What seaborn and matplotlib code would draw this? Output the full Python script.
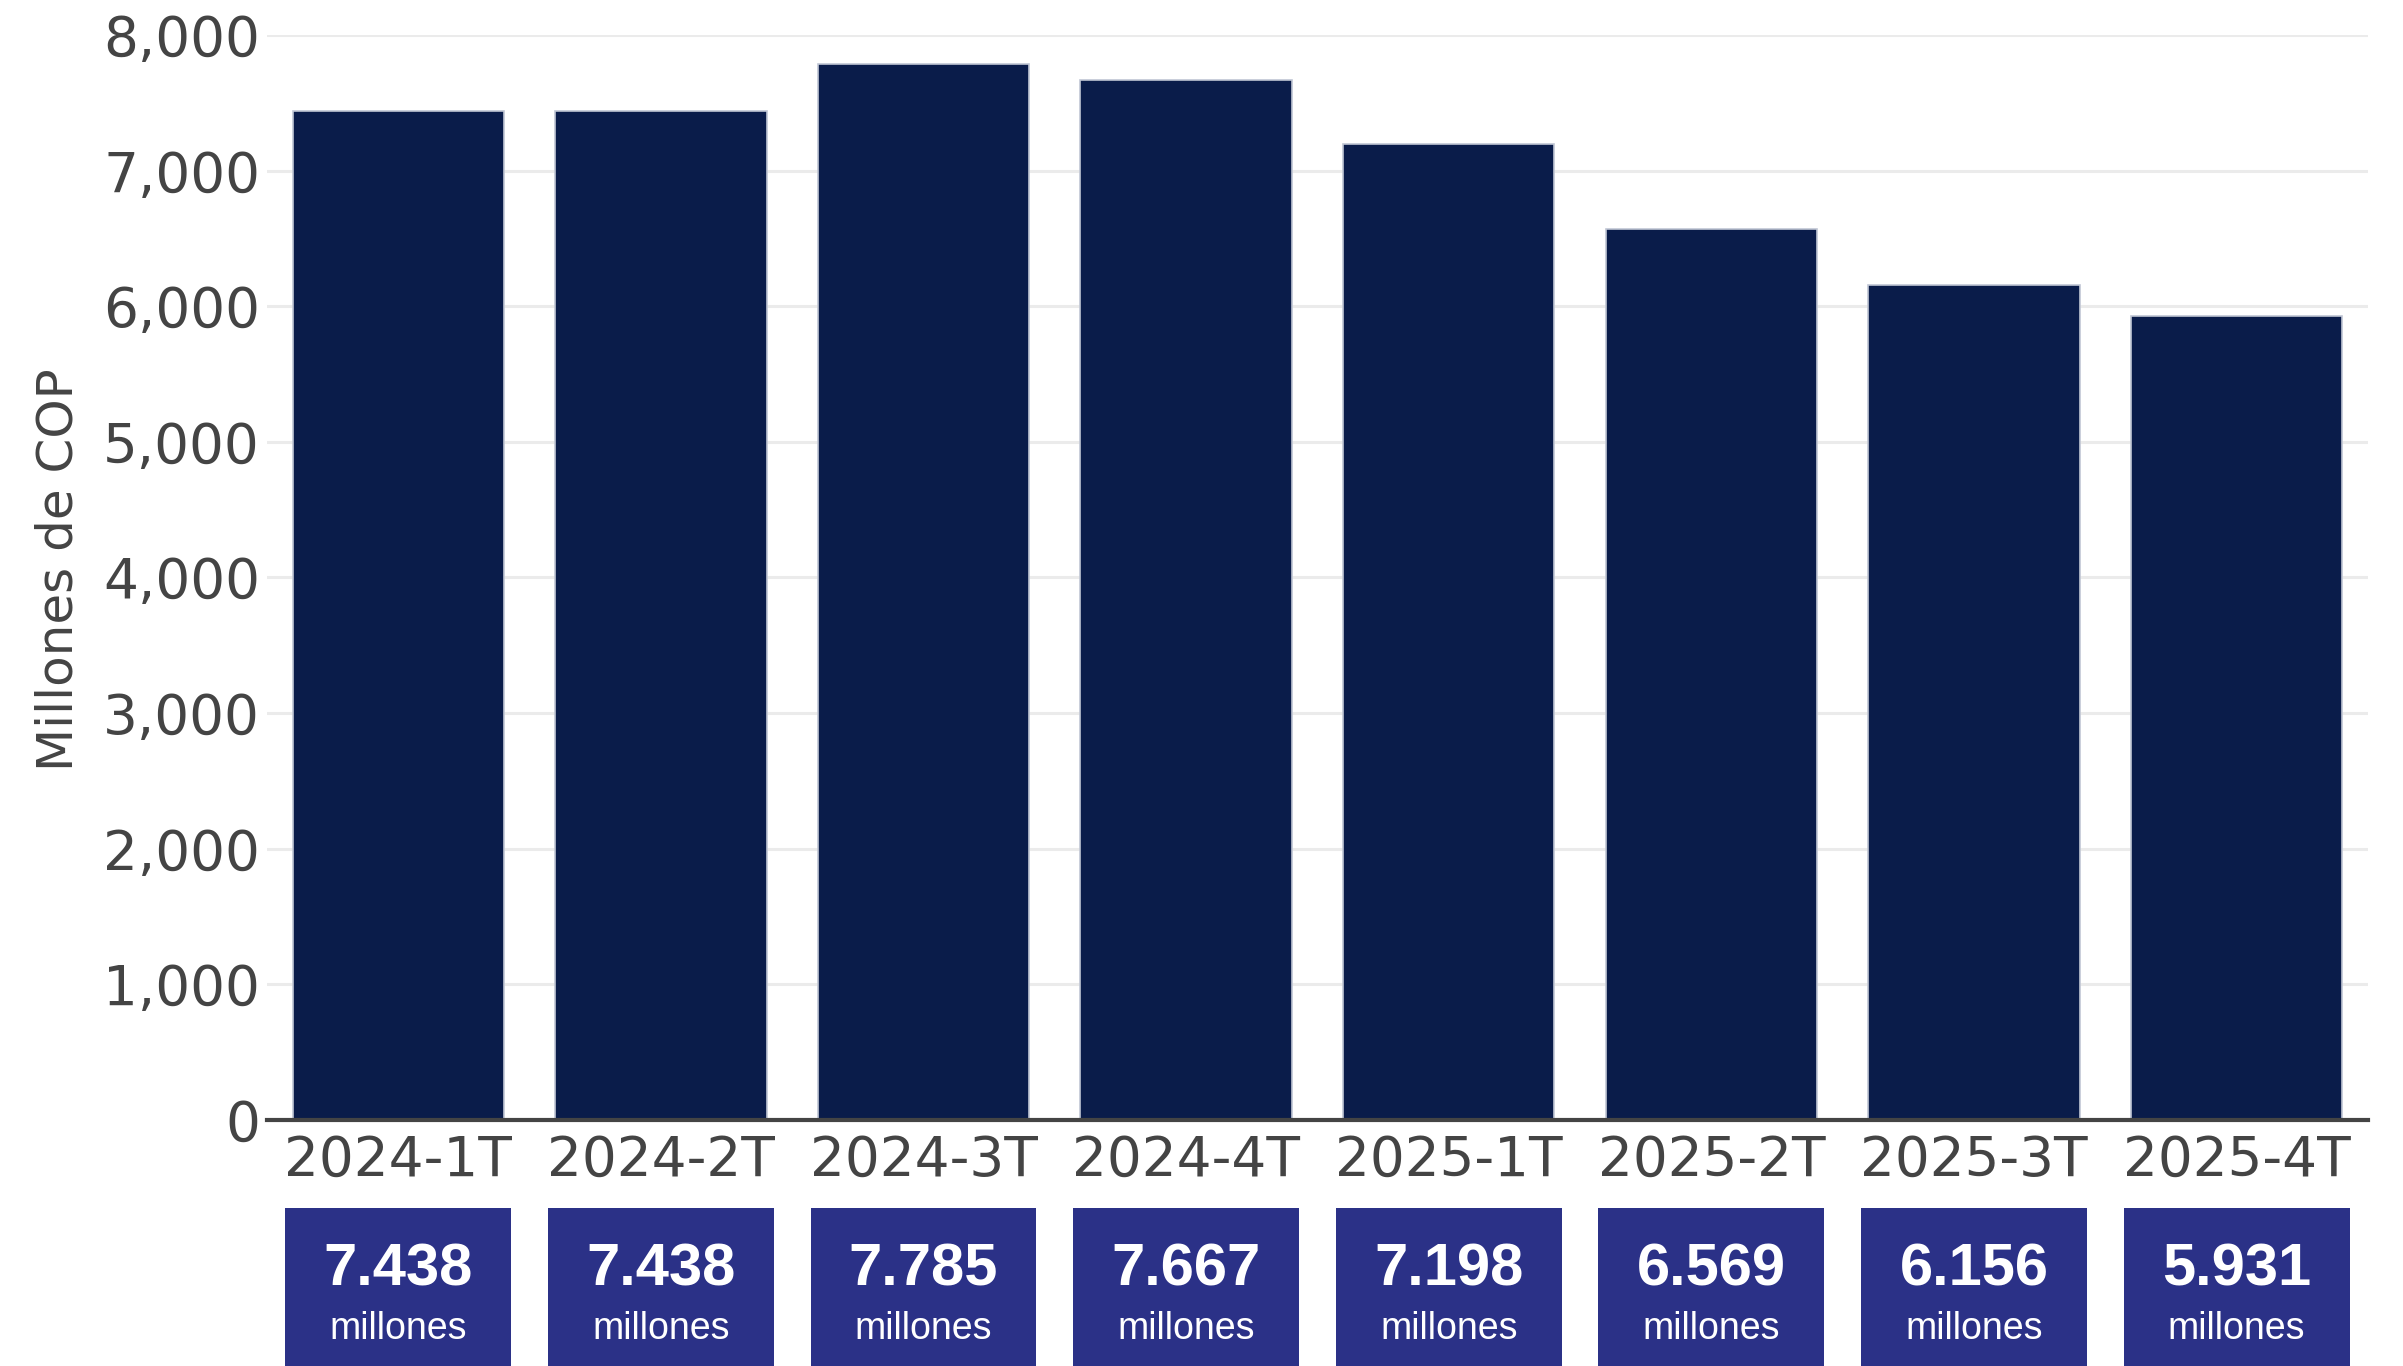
import matplotlib
matplotlib.use("Agg")
import matplotlib.pyplot as plt
import matplotlib.ticker as mticker
from matplotlib.patches import Rectangle
from matplotlib.transforms import blended_transform_factory
import seaborn as sns
import pandas as pd

categories = ["2024-1T", "2024-2T", "2024-3T", "2024-4T",
              "2025-1T", "2025-2T", "2025-3T", "2025-4T"]
values = [7438, 7438, 7785, 7667, 7198, 6569, 6156, 5931]
y_ticks = [0, 1000, 2000, 3000, 4000, 5000, 6000, 7000, 8000]
y_label = "Millones de COP"
box_unit = "millones"

sns.set_theme(style="white")
plt.rcParams["font.family"] = ["DejaVu Sans"]
plt.rcParams["font.sans-serif"] = ["DejaVu Sans"]

df = pd.DataFrame({"periodo": categories, "valor": values})

fig = plt.figure(figsize=(24.03, 13.66), dpi=100)
ax = fig.add_axes([0.1111, 0.1801, 0.8743, 0.7943])

sns.barplot(data=df, x="periodo", y="valor", color="#0a1c4a", saturation=1,
            width=0.805, edgecolor="#c0c6d4", linewidth=1.2, ax=ax, zorder=3)

ax.set_xlim(-0.5, len(categories) - 0.5)
ax.set_ylim(0, 8000)
ax.set_yticks(y_ticks)
ax.yaxis.set_major_formatter(mticker.FuncFormatter(lambda v, p: f"{int(v):,}"))
ax.grid(axis="y", color="#ebebeb", linewidth=2.2, zorder=0)
ax.grid(axis="x", visible=False)
ax.set_axisbelow(True)
for s in ["top", "right", "left"]:
    ax.spines[s].set_visible(False)
ax.spines["bottom"].set_color("#444444")
ax.spines["bottom"].set_linewidth(3)
ax.spines["bottom"].set_zorder(4)
ax.tick_params(axis="both", colors="#444444", labelsize=39.5, length=0)
ax.tick_params(axis="x", pad=10)
ax.tick_params(axis="y", pad=5)
for lbl in ax.get_xticklabels() + ax.get_yticklabels():
    lbl.set_fontfamily("DejaVu Sans")
ax.set_xlabel("")
ax.set_ylabel(y_label, fontsize=36, color="#444444", fontfamily="DejaVu Sans")
ax.yaxis.set_label_coords(-0.088, 0.507)

# value boxes below the axis
trans = blended_transform_factory(ax.transData, fig.transFigure)
box_w = 0.86
box_top = (1366 - 1208) / 1366
for i, v in enumerate(values):
    ax.add_patch(Rectangle((i - box_w / 2, 0), box_w, box_top, transform=trans,
                           facecolor="#2b3187", edgecolor="none", clip_on=False, zorder=5))
    txt = f"{v:,}".replace(",", ".")
    ax.text(i, (1366 - 1270) / 1366, txt, transform=trans, ha="center", va="center",
            color="white", fontsize=43, fontweight="bold",
            family=["Liberation Sans Narrow", "Liberation Sans", "DejaVu Sans"], zorder=6)
    ax.text(i, (1366 - 1329) / 1366, box_unit, transform=trans, ha="center", va="center",
            color="white", fontsize=27,
            family=["Liberation Sans Narrow", "Liberation Sans", "DejaVu Sans"], zorder=6)

fig.savefig("out.png", dpi=100, facecolor="white")
